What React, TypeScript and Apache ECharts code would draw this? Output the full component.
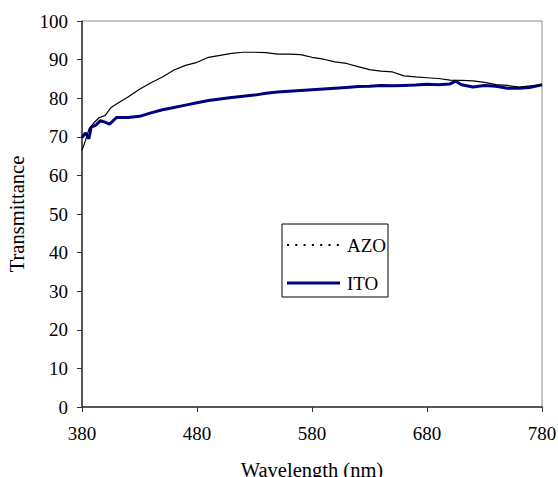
import React, { useEffect, useRef } from "react";
import * as echarts from "echarts";

const azoWl = [380, 383, 386, 390, 395, 400, 405, 410, 420, 430, 440, 450, 460, 470, 480, 490, 500, 510, 520, 530, 540, 550, 560, 570, 580, 590, 600, 610, 620, 630, 640, 650, 660, 670, 680, 690, 700, 710, 720, 730, 740, 750, 760, 770, 780];
const azoT = [66.5, 69, 72, 73.5, 75, 75.5, 77.5, 78.5, 80.3, 82.3, 84, 85.5, 87.3, 88.5, 89.3, 90.6, 91.1, 91.6, 91.9, 91.9, 91.8, 91.4, 91.4, 91.3, 90.6, 90.1, 89.4, 89, 88.2, 87.4, 87, 86.8, 85.8, 85.5, 85.3, 85.1, 84.7, 84.6, 84.5, 84.1, 83.5, 83.3, 82.9, 83.2, 83.5];

const itoWl = [380, 383, 386, 388, 392, 396, 400, 404, 410, 420, 430, 440, 450, 460, 470, 480, 490, 500, 510, 520, 530, 540, 550, 560, 570, 580, 590, 600, 610, 620, 630, 640, 650, 660, 670, 680, 690, 700, 705, 710, 720, 730, 740, 750, 760, 770, 780];
const itoT = [69.8, 71, 69.5, 72.5, 73, 74.2, 73.8, 73.3, 75, 75, 75.3, 76.2, 77, 77.6, 78.2, 78.8, 79.4, 79.8, 80.2, 80.5, 80.8, 81.3, 81.6, 81.8, 82, 82.2, 82.4, 82.6, 82.8, 83, 83.1, 83.3, 83.2, 83.3, 83.4, 83.6, 83.5, 83.7, 84.4, 83.5, 82.9, 83.3, 83.1, 82.6, 82.6, 82.8, 83.5];

const seriesNames = ["AZO", "ITO"];
const xLabel = "Wavelength (nm)";
const yLabel = "Transmittance";

const FONT = "Liberation Serif";

export default function App() {
  const ref = useRef<HTMLDivElement>(null);
  useEffect(() => {
    if (!ref.current) return;
    const chart = echarts.init(ref.current, undefined, { renderer: "svg" });
    const lx = 282;
    const ly = 224;
    chart.setOption({
      animation: false,
      backgroundColor: "#ffffff",
      textStyle: { fontFamily: FONT, color: "#000" },
      grid: {
        left: 82,
        right: 16,
        top: 21,
        bottom: 70,
        containLabel: false,
        outerBoundsMode: "none",
        show: true,
        borderColor: "#8c8c8c",
        borderWidth: 1,
        backgroundColor: "transparent",
      },
      graphic: [
        {
          type: "group",
          z: 100,
          children: [
            {
              type: "rect",
              shape: { x: lx, y: ly, width: 106, height: 73 },
              style: { fill: "#fff", stroke: "#000", lineWidth: 1 },
            },
            {
              type: "line",
              shape: { x1: lx + 5, y1: ly + 21, x2: lx + 58, y2: ly + 21 },
              style: { stroke: "#000", lineWidth: 2, lineDash: [2, 6.3] },
            },
            {
              type: "text",
              x: lx + 65,
              y: ly + 21,
              style: { text: seriesNames[0], font: `19px '${FONT}'`, fill: "#000", verticalAlign: "middle", align: "left" },
            },
            {
              type: "line",
              shape: { x1: lx + 5, y1: ly + 59, x2: lx + 58, y2: ly + 59 },
              style: { stroke: "#000080", lineWidth: 3 },
            },
            {
              type: "text",
              x: lx + 65,
              y: ly + 59,
              style: { text: seriesNames[1], font: `19px '${FONT}'`, fill: "#000", verticalAlign: "middle", align: "left" },
            },
          ],
        },
      ],
      xAxis: {
        type: "value",
        min: 380,
        max: 780,
        interval: 100,
        name: xLabel,
        nameLocation: "middle",
        nameGap: 52,
        nameTextStyle: { fontFamily: FONT, fontSize: 20.5, color: "#000" },
        axisLine: { show: true, lineStyle: { color: "#333", width: 1.5 } },
        axisTick: { show: true, inside: false, length: 5, lineStyle: { color: "#333" } },
        axisLabel: { fontFamily: FONT, fontSize: 19, color: "#000", margin: 17 },
        splitLine: { show: false },
      },
      yAxis: {
        type: "value",
        min: 0,
        max: 100,
        interval: 10,
        name: yLabel,
        nameLocation: "middle",
        nameGap: 55,
        nameTextStyle: { fontFamily: FONT, fontSize: 20.5, color: "#000" },
        axisLine: { show: true, lineStyle: { color: "#333", width: 1.5 } },
        axisTick: { show: true, inside: false, length: 5, lineStyle: { color: "#333" } },
        axisLabel: { fontFamily: FONT, fontSize: 19, color: "#000", margin: 14 },
        splitLine: { show: false },
      },
      series: [
        {
          name: seriesNames[0],
          type: "line",
          data: azoWl.map((w, i) => [w, azoT[i]]),
          showSymbol: false,
          symbol: "none",
          lineStyle: { color: "#000", width: 1.2 },
          itemStyle: { color: "#000" },
          z: 3,
        },
        {
          name: seriesNames[1],
          type: "line",
          data: itoWl.map((w, i) => [w, itoT[i]]),
          showSymbol: false,
          symbol: "none",
          lineStyle: { color: "#000080", width: 3 },
          itemStyle: { color: "#000080" },
          z: 2,
        },
      ],
    });
    return () => chart.dispose();
  }, []);
  return <div ref={ref} style={{ position: "fixed", left: 0, top: 0, width: 558, height: 477 }} />;
}
